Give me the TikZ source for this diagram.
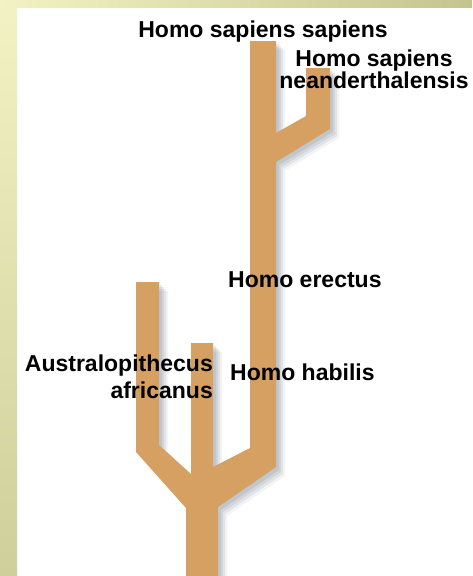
\documentclass[tikz,border=0pt]{standalone}
\usepackage{fontspec}
\setmainfont{Liberation Sans}
\definecolor{tan}{RGB}{214,160,98}
\definecolor{shad}{RGB}{110,122,136}
\definecolor{bandlight}{RGB}{242,242,196}
\definecolor{banddark}{RGB}{198,196,142}
\definecolor{leftdark}{RGB}{207,207,155}
\begin{document}
\begin{tikzpicture}[x=1pt,y=-1pt,
  lbl/.style={font=\fontsize{23}{22}\selectfont\bfseries, inner sep=0pt, text=black},
  tree/.pic={\path[pic actions] (186,576) -- (186,508) -- (136,452) -- (136,282) -- (159,282)
     -- (159,445) -- (191,474) -- (191,343) -- (213,343) -- (213,467) -- (250,448)
     -- (250,41) -- (276,41) -- (276,133) -- (306,116) -- (306,68) -- (330,68)
     -- (330,129) -- (276,162) -- (276,467) -- (218,507) -- (218,576) -- cycle;}]
\useasboundingbox (0,0) rectangle (472,576);
\fill[white] (0,0) rectangle (472,576);
\shade[top color=bandlight, bottom color=leftdark] (0,0) rectangle (17,576);
\shade[left color=bandlight, right color=banddark] (0,0) rectangle (472,7);
% shadow
\foreach \s/\o in {3/0.16,5/0.14,7/0.12,9/0.08} {
  \pic[shift={(\s,\s)}, fill=shad, fill opacity=\o] {tree};
}
% tree
\pic[fill=tan] {tree};
% labels
\node[lbl, anchor=base] (hss) at (263,37) {Homo sapiens sapiens};
\node[lbl, anchor=base, align=center] (hsn) at (374,88) {Homo sapiens\\neanderthalensis};
\node[lbl, anchor=base west] (he) at (228,287) {Homo erectus};
\node[lbl, anchor=base west] (hh) at (230,380) {Homo habilis};
\node[lbl, anchor=base east, align=right, font=\fontsize{23}{27}\selectfont\bfseries] (aa) at (213,398) {Australopithecus\\africanus};
\end{tikzpicture}
\end{document}
